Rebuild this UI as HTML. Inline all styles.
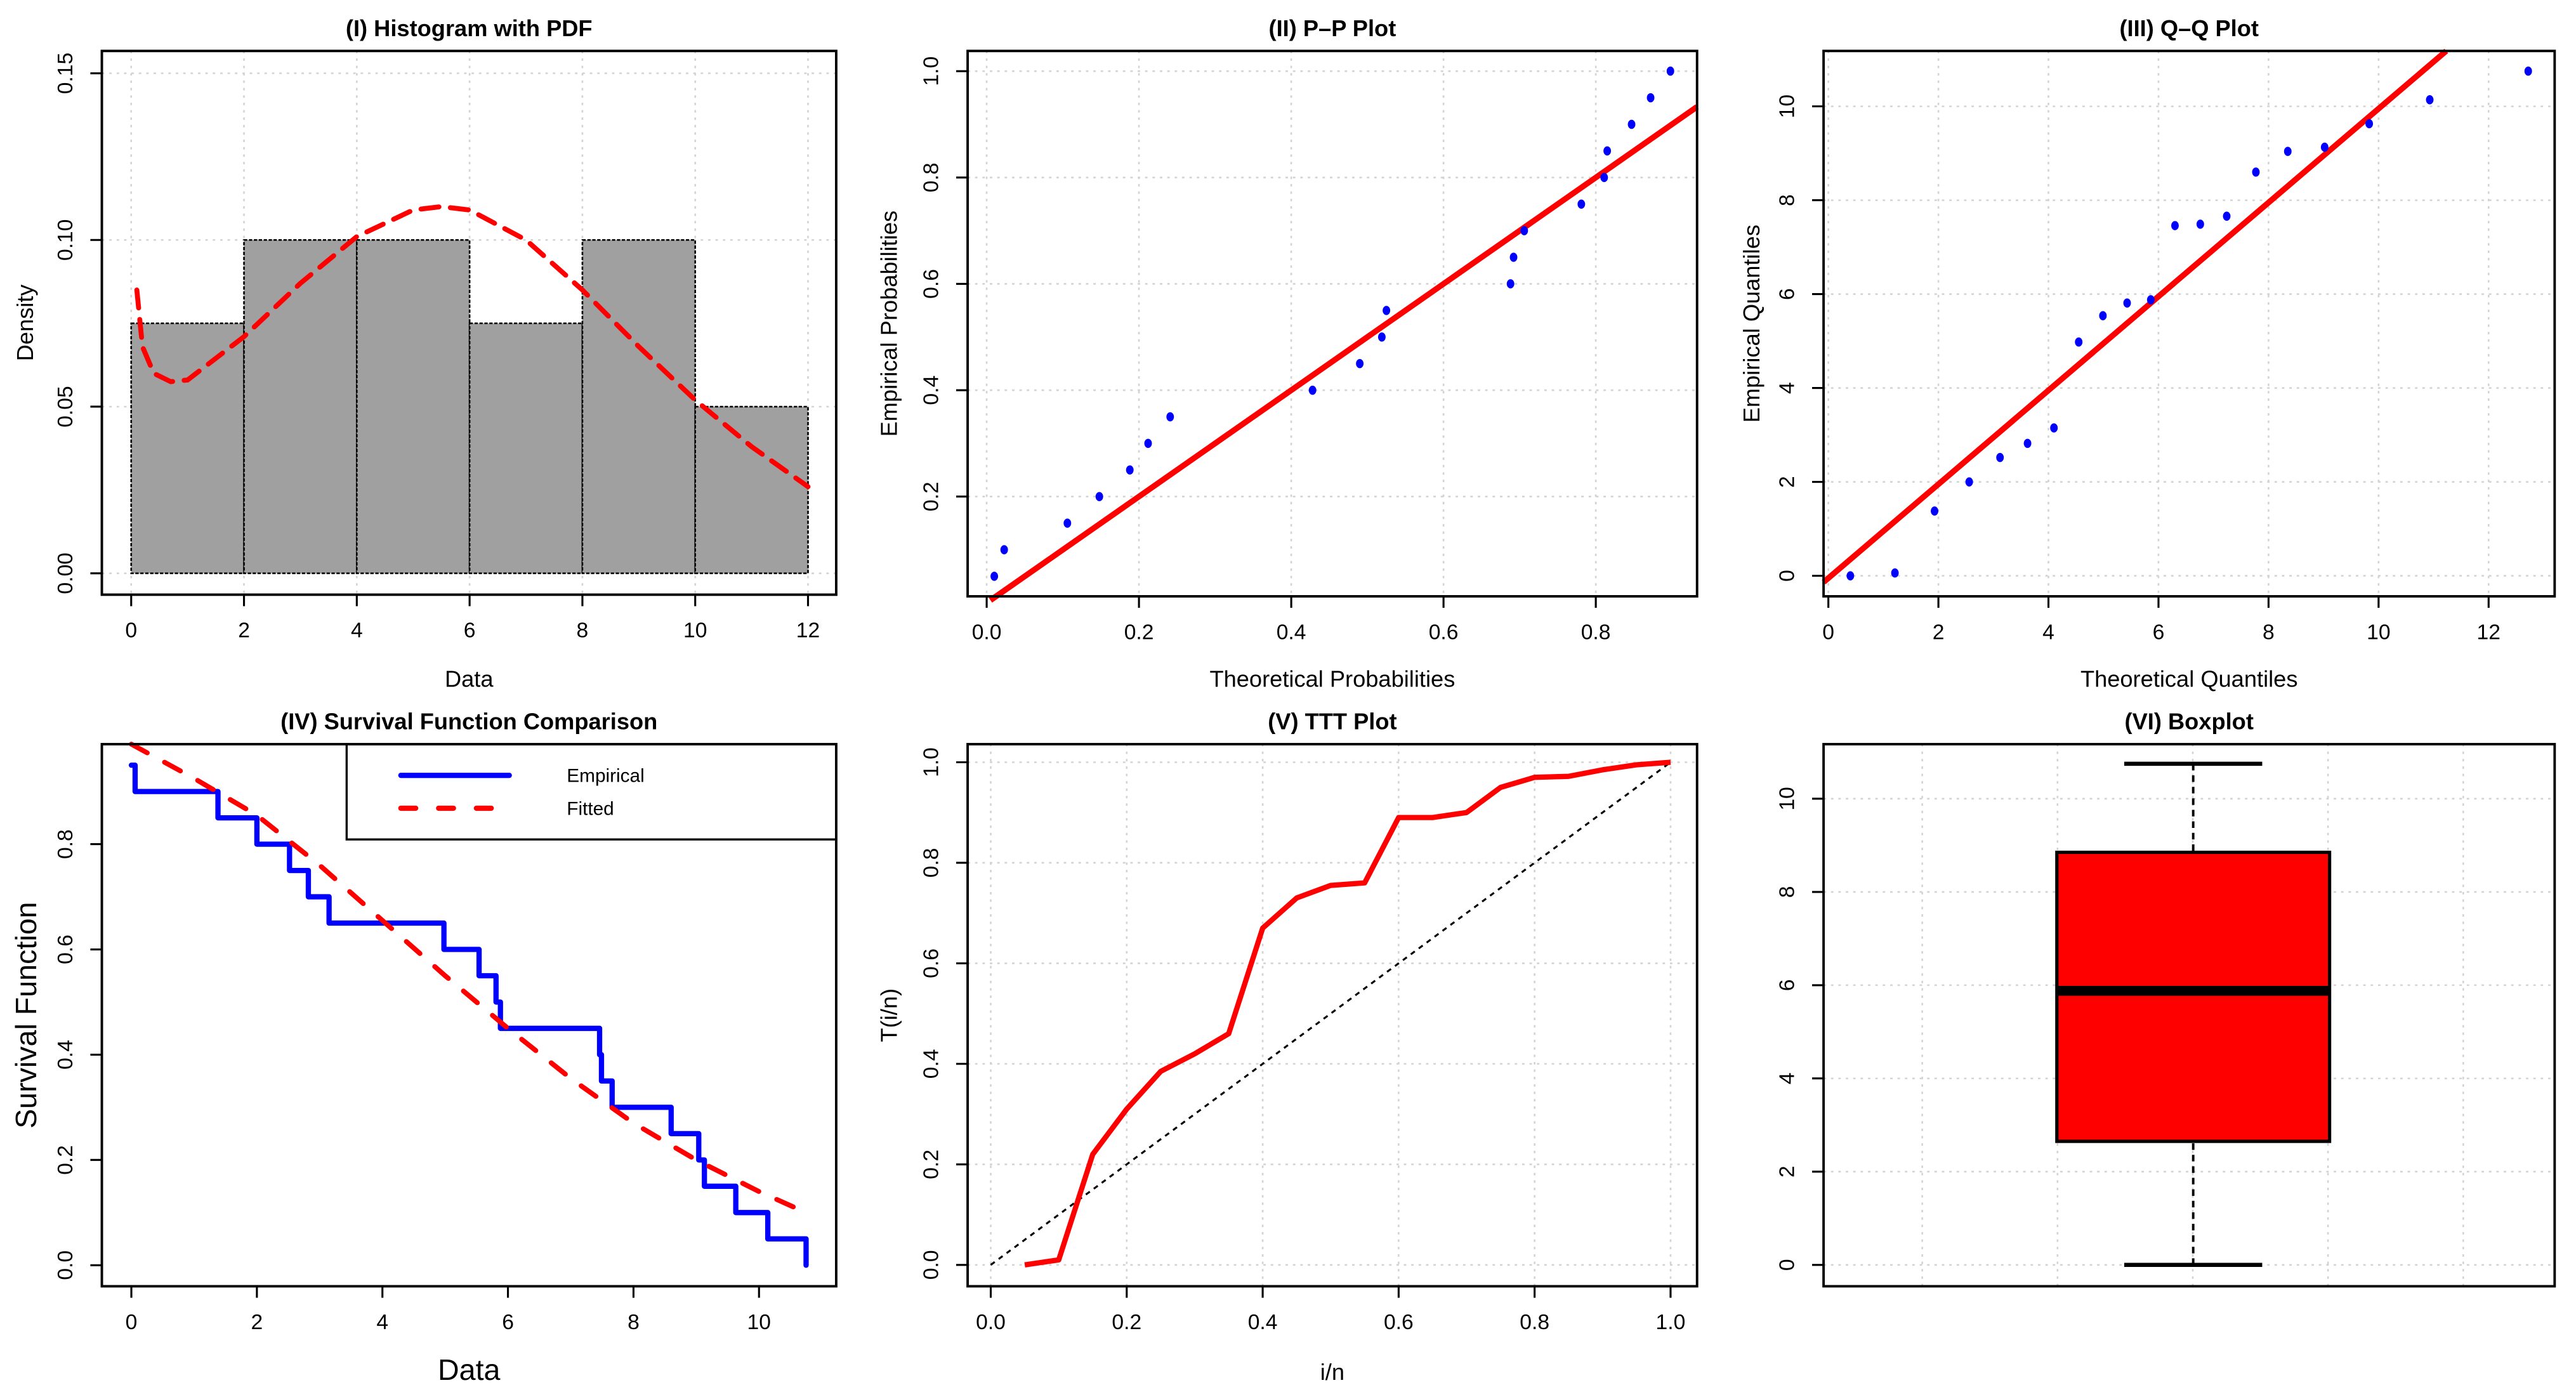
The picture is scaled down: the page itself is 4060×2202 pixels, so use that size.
<!DOCTYPE html>
<html><head><meta charset="utf-8"><style>
html,body{margin:0;padding:0;background:#fff;}
svg{display:block;font-family:"Liberation Sans",Arial,sans-serif;}
</style></head><body>
<svg id="fig" width="4060" height="2202" viewBox="0 0 1568 850.4" xmlns="http://www.w3.org/2000/svg"></svg>
<script>
// ---- data ----
const sample = [0.0,0.06,1.38,2.0,2.52,2.82,3.15,4.98,5.54,5.81,5.88,7.46,7.49,7.66,8.60,9.04,9.13,9.63,10.14,10.75];
const histBins = [0,2,4,6,8,10,12];
const histDensity = [0.075,0.10,0.10,0.075,0.10,0.05];
const pdfX = [0.1,0.2,0.4,0.7,1,2,3,4,5,5.5,6,7,8,9,10,11,12];
const pdfY = [0.085,0.068,0.060,0.0575,0.058,0.071,0.087,0.101,0.109,0.110,0.109,0.100,0.085,0.068,0.052,0.038,0.026];
const ppTheo = [0.010,0.023,0.106,0.148,0.188,0.212,0.241,0.428,0.490,0.519,0.525,0.688,0.692,0.706,0.781,0.811,0.815,0.847,0.872,0.898];
const ppEmp = [0.05,0.10,0.15,0.20,0.25,0.30,0.35,0.40,0.45,0.50,0.55,0.60,0.65,0.70,0.75,0.80,0.85,0.90,0.95,1.00];
const qqTheo = [0.40,1.21,1.93,2.56,3.12,3.62,4.10,4.55,4.99,5.43,5.86,6.30,6.76,7.24,7.77,8.35,9.02,9.83,10.93,12.72];
const qqEmp = [0.0,0.06,1.38,2.0,2.52,2.82,3.15,4.98,5.54,5.81,5.88,7.46,7.49,7.66,8.60,9.04,9.13,9.63,10.14,10.75];
const fitX = [0,1,2,3,4,5,6,7,8,9,10,10.75];
const fitS = [0.99,0.925,0.855,0.76,0.655,0.55,0.45,0.355,0.27,0.2,0.14,0.1];
const tttX = [0.05,0.1,0.15,0.2,0.25,0.3,0.35,0.4,0.45,0.5,0.55,0.6,0.65,0.7,0.75,0.8,0.85,0.9,0.95,1.0];
const tttY = [0.0,0.01,0.22,0.31,0.385,0.42,0.46,0.67,0.73,0.755,0.76,0.89,0.89,0.90,0.95,0.97,0.972,0.985,0.995,1.0];
const boxStats = [0.0,2.65,5.88,8.85,10.75];

const NS="http://www.w3.org/2000/svg";
const svg=document.getElementById('fig');
function el(tag,attrs,parent,text){const e=document.createElementNS(NS,tag);for(const k in attrs)e.setAttribute(k,attrs[k]);if(text!==undefined)e.textContent=text;(parent||svg).appendChild(e);return e;}

function panel(p){
  const g=el('g',{});
  
  
  const sx=v=>p.x0+(v-p.xmin)/(p.xmax-p.xmin)*(p.x1-p.x0);
  const sy=v=>p.y1-(v-p.ymin)/(p.ymax-p.ymin)*(p.y1-p.y0);
  if(p.grid){
    (p.gx||p.xt).forEach(v=>{const l=el('line',{x1:sx(v),x2:sx(v),y1:p.y0,y2:p.y1,stroke:'#d3d3d3','stroke-width':1,'stroke-dasharray':'1.5 3'},g);});
    p.yt.forEach(v=>{const l=el('line',{x1:p.x0,x2:p.x1,y1:sy(v),y2:sy(v),stroke:'#d3d3d3','stroke-width':1,'stroke-dasharray':'1.5 3'},g);});
  }
  const t=el('text',{x:(p.x0+p.x1)/2,y:p.y0-9,'text-anchor':'middle','font-size':14,'font-weight':'bold'},g,p.title);
  
  if(p.xt){
    el('line',{x1:sx(p.xt[0]),x2:sx(p.xt[p.xt.length-1]),y1:p.y1,y2:p.y1,stroke:'#000','stroke-width':1},g);
    p.xt.forEach((v,i)=>{el('line',{x1:sx(v),x2:sx(v),y1:p.y1,y2:p.y1+7,stroke:'#000','stroke-width':1.2},g);
      const tl=el('text',{x:sx(v),y:p.y1+26,'text-anchor':'middle','font-size':13},g,p.xl[i]);
      });
  }
  p.yt.forEach((v,i)=>{el('line',{x1:p.x0-7,x2:p.x0,y1:sy(v),y2:sy(v),stroke:'#000','stroke-width':1.2},g);
    const tl=el('text',{x:p.x0-18,y:sy(v),'text-anchor':'middle','font-size':13,transform:`rotate(-90 ${p.x0-18} ${sy(v)})`},g,p.yl[i]);
    });
  if(p.xlab){const a=el('text',{x:(p.x0+p.x1)/2,y:p.xlabY,'text-anchor':'middle','font-size':p.labSize||14},g,p.xlab);}
  if(p.ylab){const cy=(p.y0+p.y1)/2;const a=el('text',{x:p.ylabX,y:cy,'text-anchor':'middle','font-size':p.labSize||14,transform:`rotate(-90 ${p.ylabX} ${cy})`},g,p.ylab);}
  const plot=el('g',{},g);
  
  p.draw(plot,sx,sy);
  const b=el('rect',{x:p.x0,y:p.y0,width:p.x1-p.x0,height:p.y1-p.y0,fill:'none',stroke:'#000','stroke-width':1.5},g);
  
}
const pts=(xs,ys,sx,sy)=>xs.map((x,i)=>sx(x).toFixed(2)+','+sy(ys[i]).toFixed(2)).join(' ');

// I Histogram
panel({name:'histogram-panel',title:'(I) Histogram with PDF',x0:62,x1:509,y0:31,y1:362,xmin:-0.52,xmax:12.5,ymin:-0.0064,ymax:0.1567,
  grid:true,xt:[0,2,4,6,8,10,12],xl:['0','2','4','6','8','10','12'],yt:[0,0.05,0.1,0.15],yl:['0.00','0.05','0.10','0.15'],
  xlab:'Data',xlabY:418,ylab:'Density',ylabX:20,
  draw:(g,sx,sy)=>{
    histDensity.forEach((d,i)=>{const r=el('rect',{x:sx(histBins[i]),y:sy(d),width:sx(histBins[i+1])-sx(histBins[i]),height:sy(0)-sy(d),fill:'#a0a0a0',stroke:'#000','stroke-width':1,'stroke-dasharray':'2 1'},g);
      });
    const l=el('polyline',{points:pts(pdfX,pdfY,sx,sy),fill:'none',stroke:'#ff0000','stroke-width':3,'stroke-dasharray':'11 7','stroke-linecap':'round'},g);
    
  }});

// II P-P
panel({name:'pp-plot-panel',title:'(II) P\u2013P Plot',x0:589,x1:1033,y0:31,y1:363,xmin:-0.025,xmax:0.933,ymin:0.0124,ymax:1.038,
  grid:true,xt:[0,0.2,0.4,0.6,0.8],xl:['0.0','0.2','0.4','0.6','0.8'],yt:[0.2,0.4,0.6,0.8,1.0],yl:['0.2','0.4','0.6','0.8','1.0'],
  xlab:'Theoretical Probabilities',xlabY:418,ylab:'Empirical Probabilities',ylabX:546,
  draw:(g,sx,sy)=>{
    const l=el('line',{x1:sx(0.005),y1:sy(0.005),x2:sx(0.933),y2:sy(0.933),stroke:'#ff0000','stroke-width':3.5},g);
    
    ppTheo.forEach((x,i)=>{const c=el('ellipse',{cx:sx(x),cy:sy(ppEmp[i]),rx:2.3,ry:2.8,fill:'#0000ff'},g);});
  }});

// III Q-Q
panel({name:'qq-plot-panel',title:'(III) Q\u2013Q Plot',x0:1110,x1:1555,y0:31,y1:363,xmin:-0.087,xmax:13.2,ymin:-0.4375,ymax:11.18,
  grid:true,xt:[0,2,4,6,8,10,12],xl:['0','2','4','6','8','10','12'],yt:[0,2,4,6,8,10],yl:['0','2','4','6','8','10'],
  xlab:'Theoretical Quantiles',xlabY:418,ylab:'Empirical Quantiles',ylabX:1071,
  draw:(g,sx,sy)=>{
    const l=el('line',{x1:sx(-0.087),y1:sy(-0.137),x2:sx(11.23),y2:sy(11.18),stroke:'#ff0000','stroke-width':3.5},g);
    
    qqTheo.forEach((x,i)=>{const c=el('ellipse',{cx:sx(x),cy:sy(qqEmp[i]),rx:2.3,ry:2.8,fill:'#0000ff'},g);});
  }});

// IV Survival
panel({name:'survival-panel',title:'(IV) Survival Function Comparison',x0:62,x1:509,y0:453,y1:783,xmin:-0.47,xmax:11.23,ymin:-0.04,ymax:0.99,
  grid:false,xt:[0,2,4,6,8,10],xl:['0','2','4','6','8','10'],yt:[0,0.2,0.4,0.6,0.8],yl:['0.0','0.2','0.4','0.6','0.8'],
  xlab:'Data',xlabY:840,ylab:'Survival Function',ylabX:22,labSize:18,
  draw:(g,sx,sy)=>{
    const n=sample.length;let d=`M${sx(sample[0])},${sy(1-1/n)}`;
    for(let i=1;i<n;i++){d+=` H${sx(sample[i])} V${sy(1-(i+1)/n)}`;}
    const s=el('path',{d:d,fill:'none',stroke:'#0000ff','stroke-width':3.2,'stroke-linejoin':'round','stroke-linecap':'round'},g);
    
    const f=el('polyline',{points:pts(fitX,fitS,sx,sy),fill:'none',stroke:'#ff0000','stroke-width':3,'stroke-dasharray':'11 12','stroke-linecap':'round'},g);
    
    const lg=el('g',{},g);
    el('rect',{x:211,y:453,width:298,height:58,fill:'#fff',stroke:'#000','stroke-width':1.3},lg);
    const e1=el('line',{x1:244,x2:310,y1:472,y2:472,stroke:'#0000ff','stroke-width':3.2,'stroke-linecap':'round'},lg);
    const e2=el('line',{x1:244,x2:310,y1:492,y2:492,stroke:'#ff0000','stroke-width':3.2,'stroke-dasharray':'9 14','stroke-linecap':'round'},lg);
    el('text',{x:345,y:476,'font-size':11.5},lg,'Empirical');
    el('text',{x:345,y:496,'font-size':11.5},lg,'Fitted');
  }});

// V TTT
panel({name:'ttt-panel',title:'(V) TTT Plot',x0:589,x1:1033,y0:453,y1:783,xmin:-0.034,xmax:1.039,ymin:-0.0425,ymax:1.036,
  grid:true,xt:[0,0.2,0.4,0.6,0.8,1.0],xl:['0.0','0.2','0.4','0.6','0.8','1.0'],yt:[0,0.2,0.4,0.6,0.8,1.0],yl:['0.0','0.2','0.4','0.6','0.8','1.0'],
  xlab:'i/n',xlabY:840,ylab:'T(i/n)',ylabX:546,
  draw:(g,sx,sy)=>{
    const dgl=el('line',{x1:sx(0),y1:sy(0),x2:sx(1),y2:sy(1),stroke:'#000','stroke-width':1.2,'stroke-dasharray':'3 3'},g);
    
    const l=el('polyline',{points:pts(tttX,tttY,sx,sy),fill:'none',stroke:'#ff0000','stroke-width':3.2,'stroke-linejoin':'round'},g);
    
  }});

// VI Boxplot
panel({name:'boxplot-panel',title:'(VI) Boxplot',x0:1110,x1:1555,y0:453,y1:783,xmin:0,xmax:1,ymin:-0.458,ymax:11.17,
  grid:true,gx:[0.135,0.32,0.505,0.69,0.875],yt:[0,2,4,6,8,10],yl:['0','2','4','6','8','10'],
  draw:(g,sx,sy)=>{
    const cx=1335;
    const w=el('line',{x1:cx,x2:cx,y1:sy(boxStats[0]),y2:sy(boxStats[4]),stroke:'#000','stroke-width':1.5,'stroke-dasharray':'4 3'},g);
    [boxStats[0],boxStats[4]].forEach(v=>{const c=el('line',{x1:1293,x2:1377,y1:sy(v),y2:sy(v),stroke:'#000','stroke-width':2.5},g);});
    const b=el('rect',{x:1252,y:sy(boxStats[3]),width:166,height:sy(boxStats[1])-sy(boxStats[3]),fill:'#ff0000',stroke:'#000','stroke-width':2},g);
    const m=el('line',{x1:1252,x2:1418,y1:sy(boxStats[2]),y2:sy(boxStats[2]),stroke:'#000','stroke-width':6},g);
  }});
</script>
</body></html>
